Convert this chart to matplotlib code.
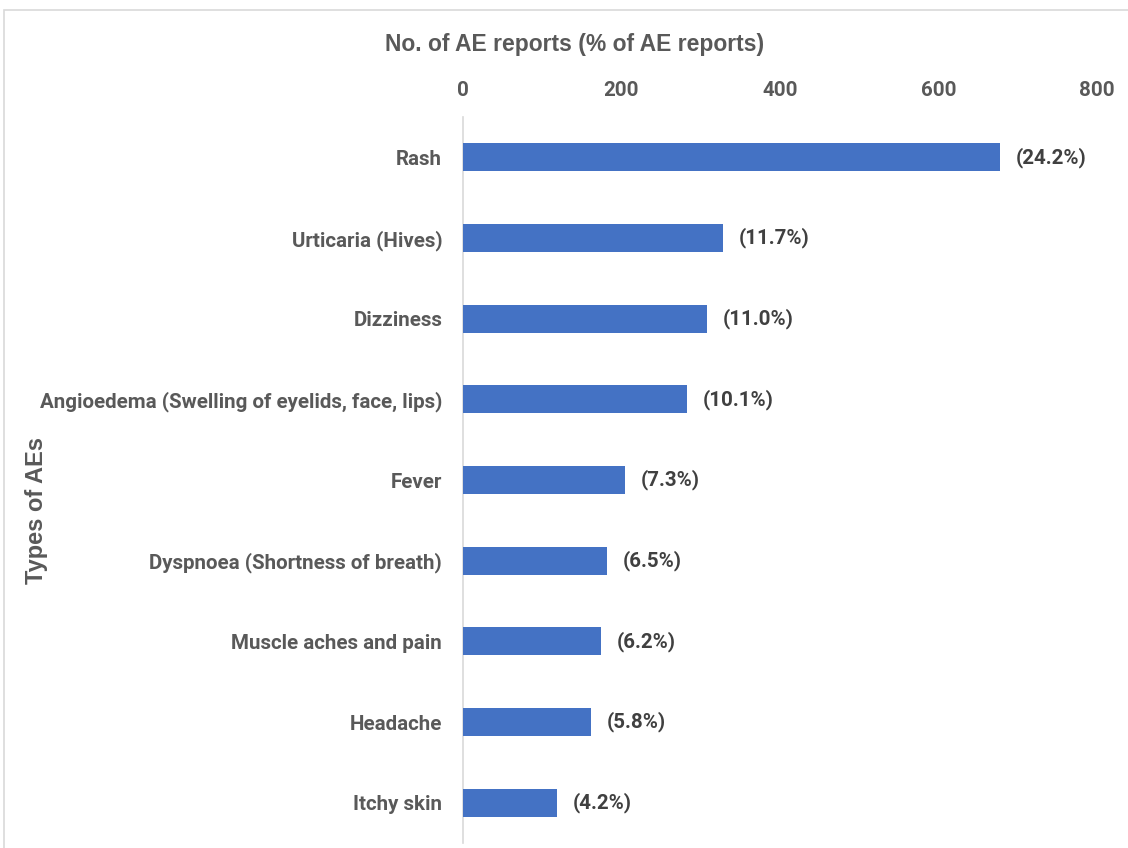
import matplotlib
matplotlib.use("Agg")
import matplotlib.pyplot as plt
from matplotlib.patches import Rectangle

categories = [
    "Rash",
    "Urticaria (Hives)",
    "Dizziness",
    "Angioedema (Swelling of eyelids, face, lips)",
    "Fever",
    "Dyspnoea (Shortness of breath)",
    "Muscle aches and pain",
    "Headache",
    "Itchy skin",
]
counts = [678, 328, 308, 283, 204, 182, 174, 162, 118]
pct_labels = ["(24.2%)", "(11.7%)", "(11.0%)", "(10.1%)", "(7.3%)",
              "(6.5%)", "(6.2%)", "(5.8%)", "(4.2%)"]
x_ticks = [0, 200, 400, 600, 800]

_BAR = "#4472c4"
_TXT = "#595959"
_LBL = "#404040"
_FONT = "Roboto"
_FS = 14.8

fig = plt.figure(figsize=(11.28, 8.48), dpi=100)
# thin grey frame around the chart area
fig.patches.append(Rectangle((4 / 1128, -0.01), 1.1, 1 - 10 / 848 + 0.01,
                             transform=fig.transFigure, fill=False,
                             edgecolor="#d9d9d9", linewidth=1.2))

W, H = 1128, 848
left, right, top, bottom = 463, 1097, 117, 843
ax = fig.add_axes([left / W, 1 - bottom / H, (right - left) / W, (bottom - top) / H])

y = list(range(len(categories)))
ax.barh(y, counts, height=0.35, color=_BAR, zorder=3)
ax.set_ylim(len(categories) - 0.5, -0.5)
ax.set_xlim(0, 800)

ax.xaxis.tick_top()
ax.set_xticks(x_ticks)
ax.set_xticklabels([str(t) for t in x_ticks], fontfamily=_FONT,
                   fontweight="bold", fontsize=_FS, color=_TXT)
ax.tick_params(axis="x", length=0, pad=12)
ax.set_yticks(y)
ax.set_yticklabels(categories, fontfamily=_FONT, fontweight="bold",
                   fontsize=_FS, color=_TXT)
ax.tick_params(axis="y", length=0, pad=15)

for s in ("top", "right", "bottom"):
    ax.spines[s].set_visible(False)
ax.spines["left"].set_color("#d9d9d9")
ax.spines["left"].set_linewidth(1.2)

for yi, c, lab in zip(y, counts, pct_labels):
    ax.text(c + 20, yi, lab, va="center", ha="left", fontfamily=_FONT,
            fontweight="bold", fontsize=_FS, color=_LBL)

fig.text(575 / W, 1 - 44 / H, "No. of AE reports (% of AE reports)",
         ha="center", va="center", fontfamily="Liberation Sans",
         fontweight="bold", fontsize=16.5, color=_TXT)
fig.text(37 / W, 1 - 510 / H, "Types of AEs", ha="center", va="center",
         rotation=90, fontfamily="Liberation Sans", fontweight="bold",
         fontsize=17, color=_TXT)

fig.savefig("out.png", dpi=100, facecolor="white")
